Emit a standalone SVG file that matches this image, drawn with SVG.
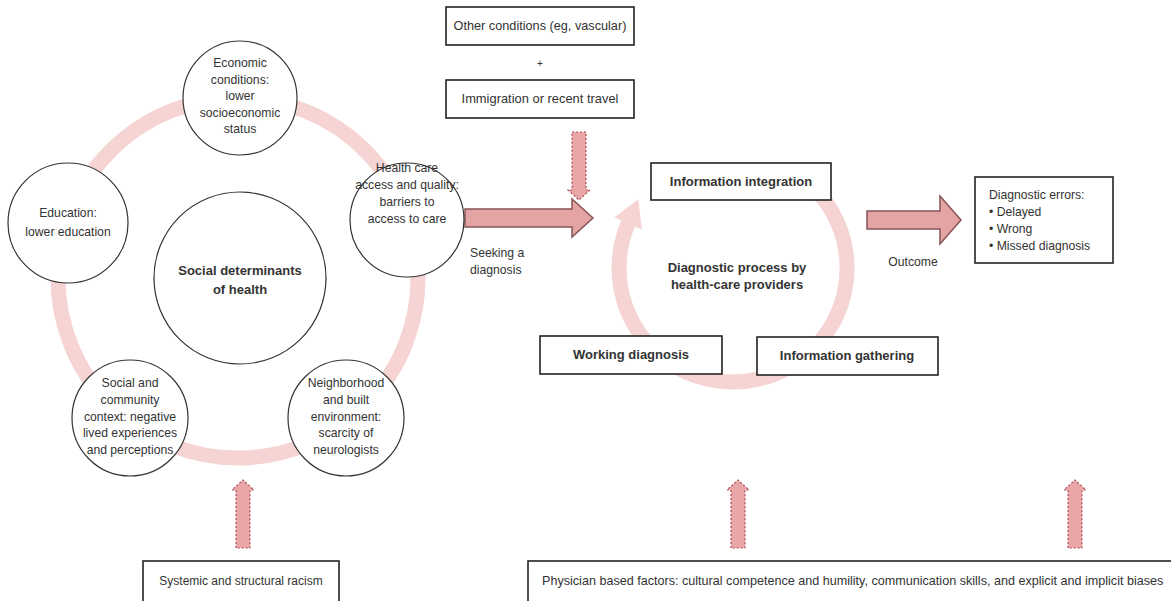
<svg xmlns="http://www.w3.org/2000/svg" width="1171" height="601" viewBox="0 0 1171 601">
<style>
text{font-family:"Liberation Sans",Arial,sans-serif;fill:#333;font-size:12.2px}
.c{text-anchor:middle}
.b{font-weight:bold;font-size:13px}
.node circle{fill:#fff;stroke:#333;stroke-width:1.2}
.box rect{fill:#fff;stroke:#222;stroke-width:1.6}
.ring{fill:none;stroke:#f6d4d4;stroke-width:15}
.solid{fill:#e4a4a4;stroke:#855;stroke-width:1.5}
.dash{fill:#e8a6a6;stroke:#b04858;stroke-width:1.2;stroke-dasharray:2 2}
</style>
<rect width="1171" height="601" fill="#fff"/>
<g id="connectors">
<circle class="ring" cx="238" cy="278" r="180"/>
<path class="ring" d="M806.3,180.7 A114,114 0 1 1 628.1,223.5"/>
<path fill="#f6d4d4" d="M614.3,217.6 L641.9,229.4 L638.3,199.1 Z"/>
<path class="solid" d="M465,209 H572 V199 L593,218 L572,237 V227 H465 Z"/>
<path class="solid" d="M867,211 H940 V196 L961,220 L940,244 V229 H867 Z"/>
<path class="dash" d="M572,132 H586 V190 H590 L579,200 L568,190 H572 Z"/>
<path class="dash" d="M236,548 V490 H232 L243,480 L254,490 H250 V548 Z"/>
<path class="dash" d="M731,548 V490 H727 L738,480 L749,490 H745 V548 Z"/>
<path class="dash" d="M1068,548 V490 H1064 L1075,480 L1086,490 H1082 V548 Z"/>
</g>
<g id="economic" class="node"><circle cx="240" cy="98" r="57"/>
<text class="c" x="240" y="67">Economic</text><text class="c" x="240" y="84">conditions:</text><text class="c" x="240" y="100">lower</text><text class="c" x="240" y="117">socioeconomic</text><text class="c" x="240" y="133">status</text></g>
<g id="education" class="node"><circle cx="68" cy="223" r="60"/>
<text class="c" x="68" y="217">Education:</text><text class="c" x="68" y="236">lower education</text></g>
<g id="healthcare" class="node"><circle cx="407" cy="220" r="57"/>
<text class="c" x="407" y="172">Health care</text><text class="c" x="407" y="189">access and quality:</text><text class="c" x="407" y="206">barriers to</text><text class="c" x="407" y="223">access to care</text></g>
<g id="sdoh" class="node"><circle cx="240" cy="278" r="86"/>
<text class="c b" x="240" y="275">Social determinants</text><text class="c b" x="240" y="294">of health</text></g>
<g id="social" class="node"><circle cx="130" cy="418" r="58"/>
<text class="c" x="130" y="387">Social and</text><text class="c" x="130" y="404">community</text><text class="c" x="130" y="421">context: negative</text><text class="c" x="130" y="437">lived experiences</text><text class="c" x="130" y="454">and perceptions</text></g>
<g id="neighborhood" class="node"><circle cx="346" cy="418" r="58"/>
<text class="c" x="346" y="387">Neighborhood</text><text class="c" x="346" y="404">and built</text><text class="c" x="346" y="421">environment:</text><text class="c" x="346" y="437">scarcity of</text><text class="c" x="346" y="454">neurologists</text></g>
<g id="other" class="box"><rect x="446" y="7" width="188" height="38"/><text class="c" x="540" y="30" style="font-size:12.7px">Other conditions (eg, vascular)</text></g>
<text class="c" x="540" y="67" style="font-size:10px">+</text>
<g id="immigration" class="box"><rect x="446" y="80" width="188" height="38"/><text class="c" x="540" y="103" style="font-size:12.9px">Immigration or recent travel</text></g>
<text x="470" y="257">Seeking a</text><text x="470" y="274">diagnosis</text>
<g id="integration" class="box"><rect x="651" y="163" width="180" height="37"/><text class="c b" x="741" y="186">Information integration</text></g>
<g id="process"><text class="c b" x="737" y="272">Diagnostic process by</text><text class="c b" x="737" y="289">health-care providers</text></g>
<g id="working" class="box"><rect x="540" y="336" width="182" height="38"/><text class="c b" x="631" y="359">Working diagnosis</text></g>
<g id="gathering" class="box"><rect x="757" y="337" width="181" height="38"/><text class="c b" x="847" y="360">Information gathering</text></g>
<text class="c" x="913" y="266">Outcome</text>
<g id="errors" class="box"><rect x="975" y="177" width="138" height="86"/>
<text x="989" y="199">Diagnostic errors:</text><text x="989" y="216">• Delayed</text><text x="989" y="233">• Wrong</text><text x="989" y="250">• Missed diagnosis</text></g>
<g id="racism" class="box"><rect x="143" y="561" width="196" height="46"/><text class="c" x="241" y="585" style="font-size:12px">Systemic and structural racism</text></g>
<g id="physician" class="box"><rect x="528" y="561" width="650" height="46"/><text x="542" y="585" style="font-size:12.6px">Physician based factors: cultural competence and humility, communication skills, and explicit and implicit biases</text></g>
</svg>
